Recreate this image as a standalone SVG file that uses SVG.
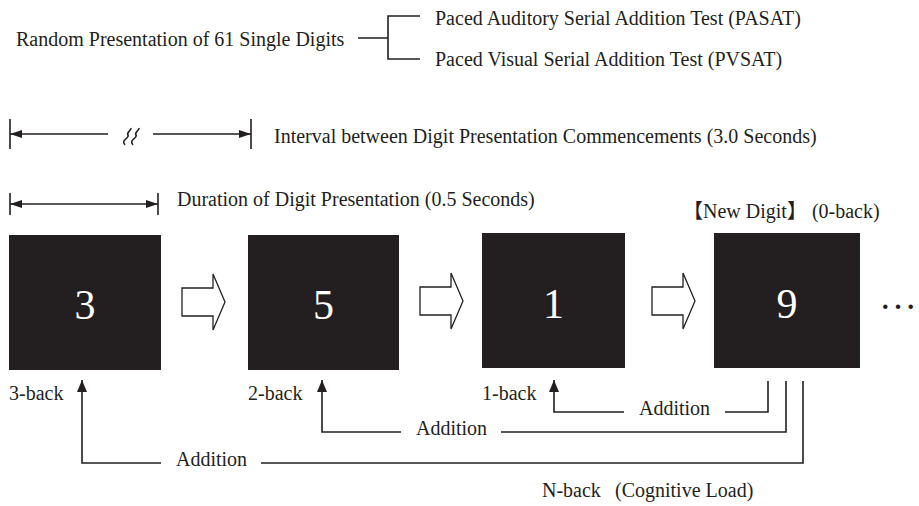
<svg xmlns="http://www.w3.org/2000/svg" width="919" height="506" viewBox="0 0 919 506">
  <style>
    .t { font-family: "Liberation Serif", "Noto Sans CJK JP", serif; font-size: 20px; fill: #231f20; }
    .digit { font-family: "Liberation Serif", serif; font-size: 42px; fill: #ffffff; text-anchor: middle; }
    .ln { stroke: #231f20; stroke-width: 1.6; fill: none; }
    .box { fill: #231f20; }
    .blk { fill: #ffffff; stroke: #231f20; stroke-width: 1.3; stroke-linejoin: miter; }
  </style>
  <defs>
    <marker id="ah" viewBox="0 0 12 8" refX="12" refY="4" markerWidth="12" markerHeight="8" markerUnits="userSpaceOnUse" orient="auto">
      <path d="M0,0 L12,4 L0,8 Z" fill="#231f20"/>
    </marker>
    <marker id="up" viewBox="0 0 12 10" refX="12" refY="5" markerWidth="12" markerHeight="10" markerUnits="userSpaceOnUse" orient="auto">
      <path d="M0,0 L12,5 L0,10 Z" fill="#231f20"/>
    </marker>
    <path id="blockArrow" d="M0,0 H31 V-14 L43,14 L31,42 V28 H0 Z"/>
  </defs>

  <!-- test selection header -->
  <g id="header">
    <text class="t" x="16" y="46">Random Presentation of 61 Single Digits</text>
    <path class="ln" d="M358,38 H388 M420,16 H388 V59 H420"/>
    <text class="t" x="435" y="25">Paced Auditory Serial Addition Test (PASAT)</text>
    <text class="t" x="435" y="66">Paced Visual Serial Addition Test (PVSAT)</text>
  </g>

  <!-- interval between presentation onsets -->
  <g id="interval">
    <path class="ln" d="M10,119 V149 M251,119 V149"/>
    <path class="ln" d="M108,134 H10" marker-end="url(#ah)"/>
    <path class="ln" d="M153,134 H251" marker-end="url(#ah)"/>
    <path class="ln" stroke-width="1.1" d="M125,145 C120,140 130,138 128,135 C126,132 132,130 131,128"/>
    <path class="ln" stroke-width="1.1" d="M133,145 C128,140 138,138 136,135 C134,132 140,130 139,128"/>
    <text class="t" x="274" y="143">Interval between Digit Presentation Commencements (3.0 Seconds)</text>
  </g>

  <!-- presentation duration -->
  <g id="duration">
    <path class="ln" d="M10,193 V215 M158,193 V215"/>
    <path class="ln" d="M84,204 H10" marker-end="url(#ah)"/>
    <path class="ln" d="M84,204 H158" marker-end="url(#ah)"/>
    <text class="t" x="177" y="206">Duration of Digit Presentation (0.5 Seconds)</text>
  </g>

  <!-- digit frames -->
  <g id="digit-3">
    <rect class="box" x="9" y="235" width="152" height="135"/>
    <text class="digit" x="85" y="319">3</text>
    <text class="t" x="9" y="400">3-back</text>
  </g>
  <g id="digit-5">
    <rect class="box" x="248" y="235" width="151" height="135"/>
    <text class="digit" x="323.5" y="319">5</text>
    <text class="t" x="248" y="400">2-back</text>
  </g>
  <g id="digit-1">
    <rect class="box" x="482" y="233" width="143" height="135"/>
    <text class="digit" x="553.5" y="318">1</text>
    <text class="t" x="482" y="400">1-back</text>
  </g>
  <g id="digit-9">
    <rect class="box" x="714" y="233" width="146" height="135"/>
    <text class="digit" x="787" y="318">9</text>
    <text class="t" x="683" y="218">【New Digit】 (0-back)</text>
  </g>
  <g id="ellipsis">
    <text class="t" x="879" y="309" style="font-size:38px">…</text>
  </g>

  <!-- sequence arrows between frames -->
  <g id="sequence">
    <use href="#blockArrow" class="blk" x="182" y="288"/>
    <use href="#blockArrow" class="blk" x="420" y="287"/>
    <use href="#blockArrow" class="blk" x="652" y="287"/>
  </g>

  <!-- addition back-references -->
  <g id="connectors">
    <path class="ln" d="M768,381 V412 H725"/>
    <path class="ln" d="M624,412 H554 V380" marker-end="url(#up)"/>
    <path class="ln" d="M786,381 V432 H501"/>
    <path class="ln" d="M401,432 H322 V380" marker-end="url(#up)"/>
    <path class="ln" d="M803,381 V463 H261"/>
    <path class="ln" d="M161,463 H82 V380" marker-end="url(#up)"/>
  </g>
  <g id="labels">
    <text class="t" x="639" y="415">Addition</text>
    <text class="t" x="416" y="435">Addition</text>
    <text class="t" x="176" y="466">Addition</text>
    <text class="t" x="542" y="497">N-back</text>
    <text class="t" x="615" y="497">(Cognitive Load)</text>
  </g>
</svg>
